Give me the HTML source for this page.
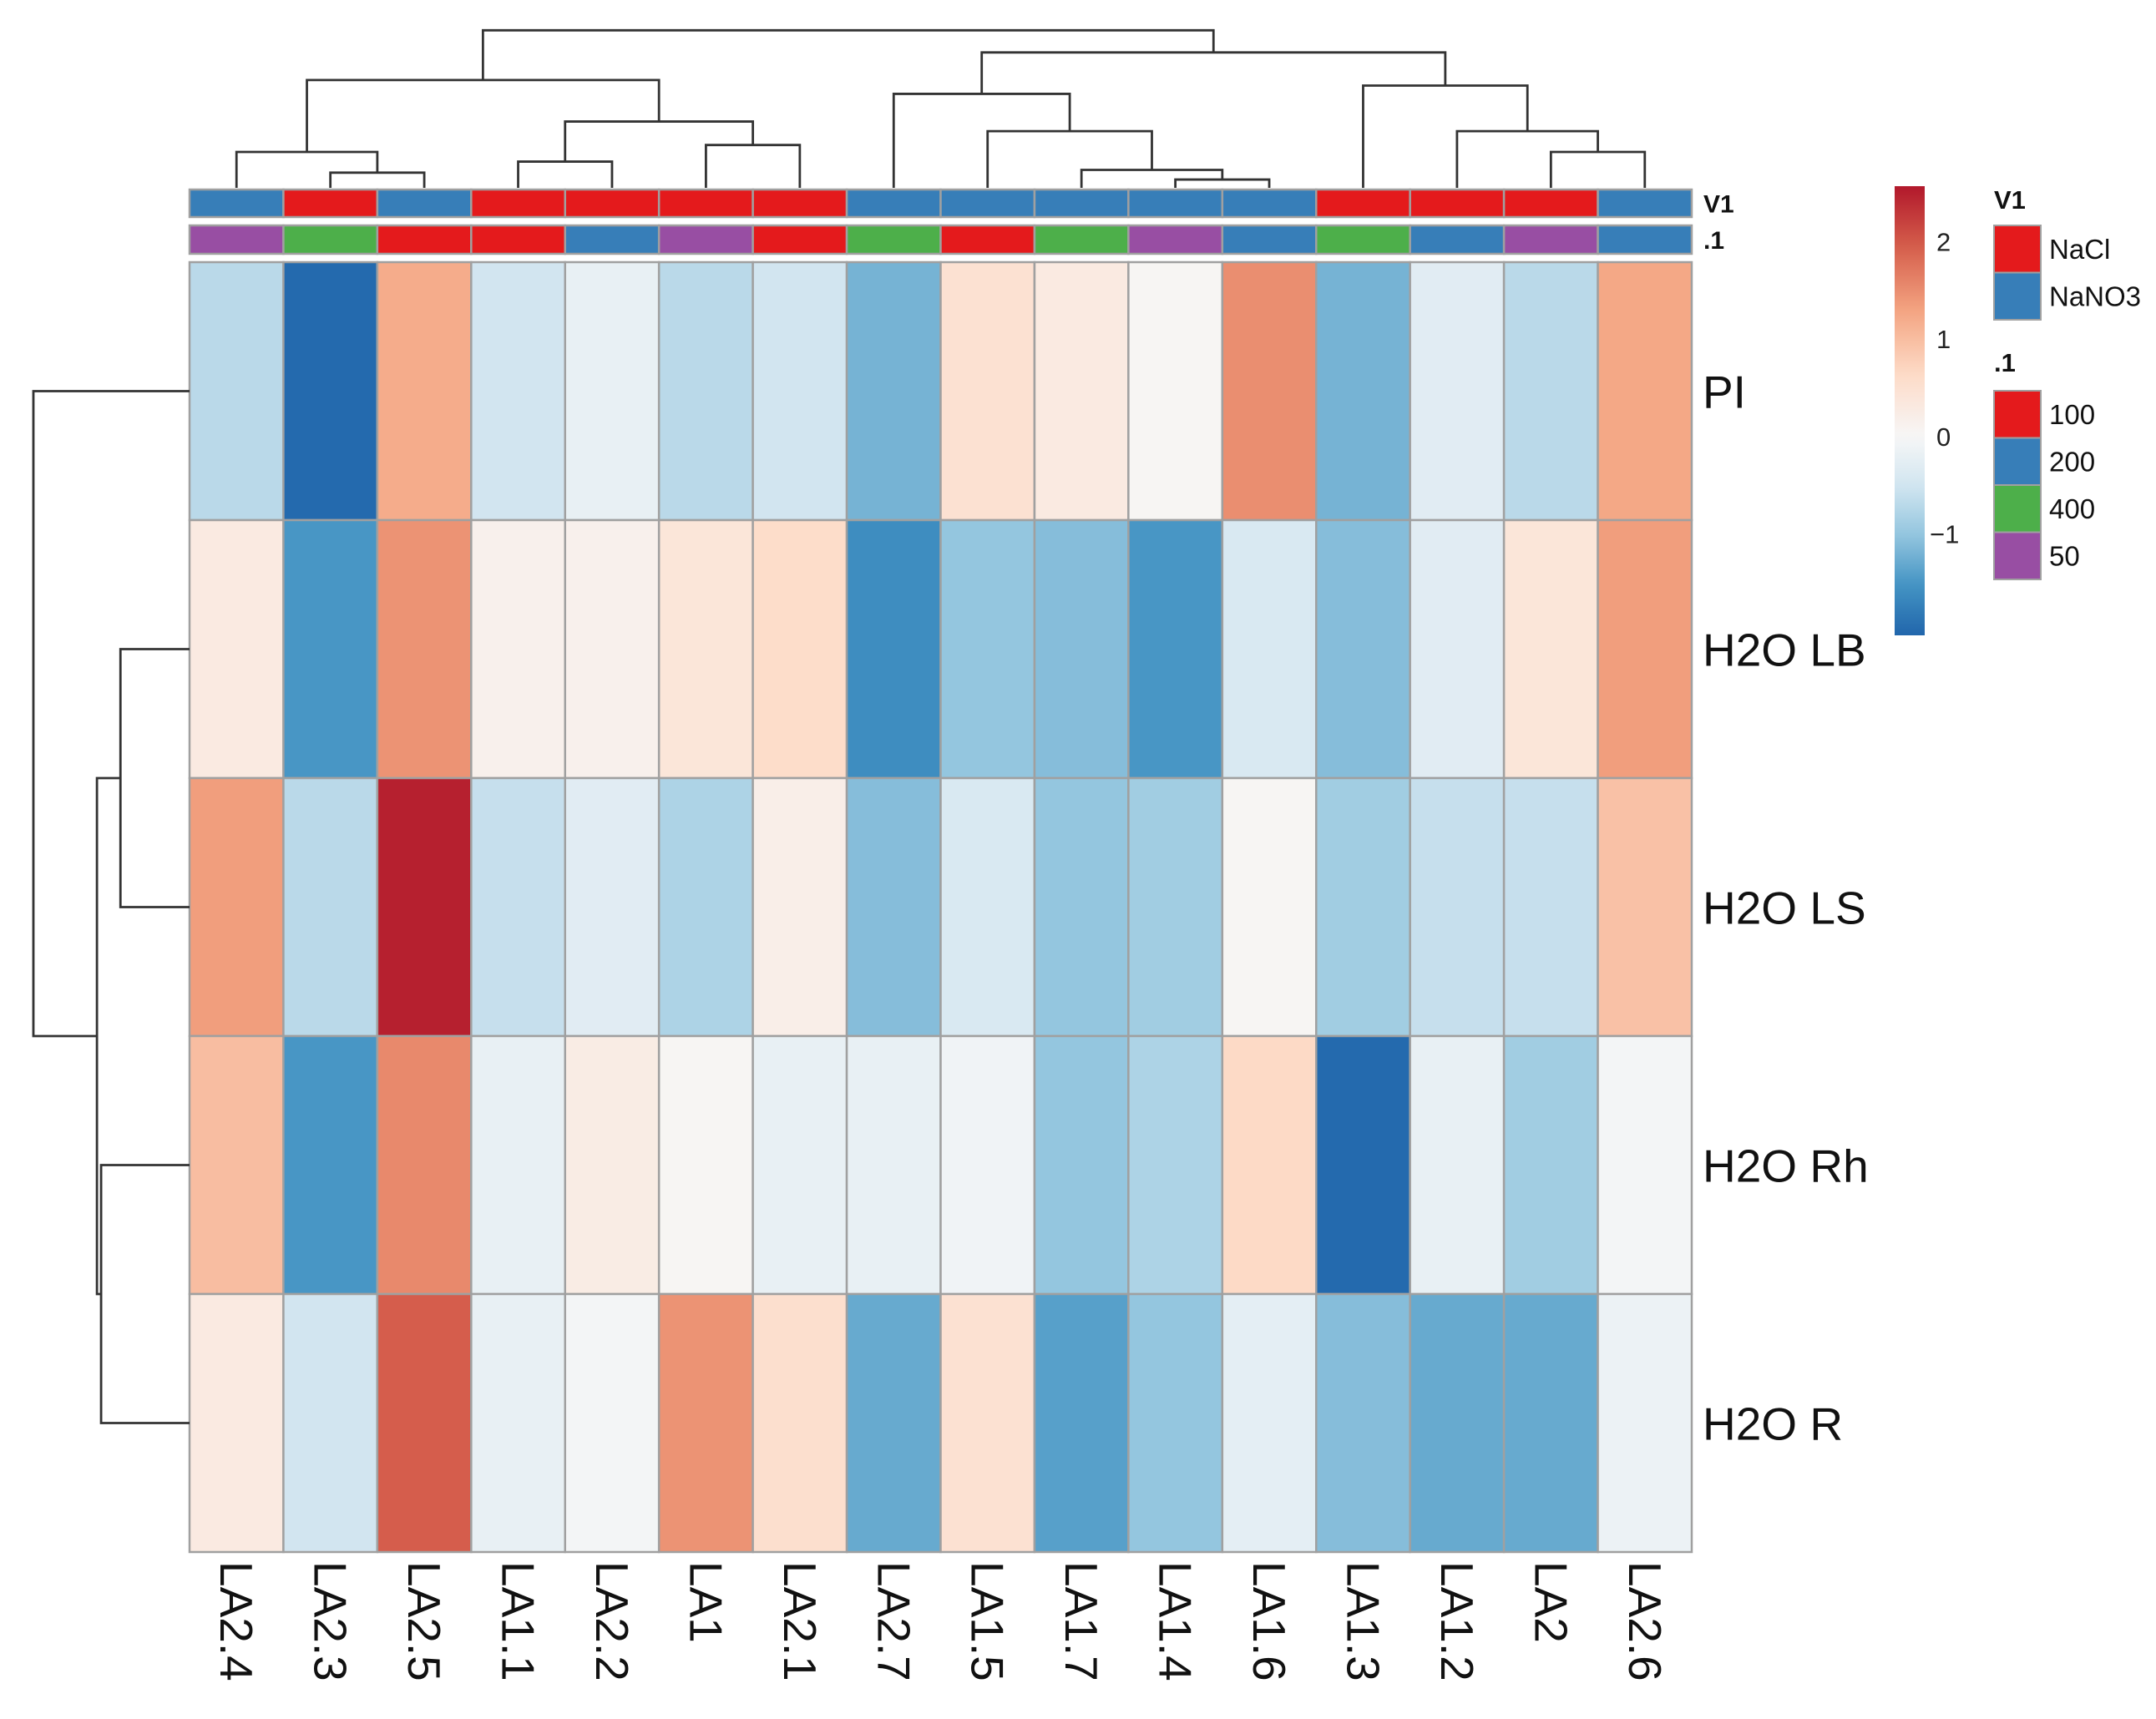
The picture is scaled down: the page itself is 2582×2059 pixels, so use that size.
<!DOCTYPE html>
<html><head><meta charset="utf-8">
<style>
html,body{margin:0;padding:0;background:#fff;}
svg{display:block;font-family:"Liberation Sans",Arial,sans-serif;}
</style></head>
<body>
<svg id="chart" width="2582" height="2059" viewBox="0 0 2582 2059"></svg>
<script>
const colLabels = ["LA2.4","LA2.3","LA2.5","LA1.1","LA2.2","LA1","LA2.1","LA2.7","LA1.5","LA1.7","LA1.4","LA1.6","LA1.3","LA1.2","LA2","LA2.6"];
const rowLabels = ["PI","H2O LB","H2O LS","H2O Rh","H2O R"];
const valsPI = [-0.7,-2.0,1.2,-0.5,-0.2,-0.7,-0.5,-1.2,0.5,0.3,0.05,1.5,-1.2,-0.3,-0.7,1.25];
const valsLB = [0.3,-1.5,1.45,0.15,0.15,0.4,0.6,-1.6,-1.0,-1.1,-1.5,-0.4,-1.1,-0.3,0.4,1.35];
const valsLS = [1.35,-0.7,2.5,-0.6,-0.3,-0.8,0.2,-1.1,-0.4,-1.0,-0.9,0.05,-0.9,-0.6,-0.6,0.95];
const valsRh = [1.0,-1.5,1.55,-0.2,0.25,0.05,-0.2,-0.2,-0.1,-1.0,-0.8,0.65,-2.0,-0.2,-0.9,-0.05];
const valsR  = [0.3,-0.5,1.95,-0.2,-0.05,1.45,0.55,-1.3,0.5,-1.4,-1.0,-0.25,-1.1,-1.3,-1.3,-0.15];
const annoV1 = ["NaNO3","NaCl","NaNO3","NaCl","NaCl","NaCl","NaCl","NaNO3","NaNO3","NaNO3","NaNO3","NaNO3","NaCl","NaCl","NaCl","NaNO3"];
const annoDot1 = ["50","400","100","100","200","50","100","400","100","400","50","200","400","200","50","200"];
const v1Levels = ["NaCl","NaNO3"];
const dot1Levels = ["100","200","400","50"];
const colbarTicks = [2,1,0,-1];
// dendrogram merges: [a, b, height]; negative = leaf index -(i+1), positive = merge number (1-based)
const colMerges = [[-2,-3,11],[-1,1,26],[-4,-5,19],[-6,-7,31],[3,4,48],[2,5,78],[-11,-12,6],[-10,7,13],[-9,8,41],[-8,9,68],[-15,-16,26],[-14,11,41],[-13,12,74],[10,13,98],[6,14,114]];
const rowMerges = [[-2,-3,50],[-4,-5,64],[1,2,67],[-1,3,113]];

const matrix = [valsPI,valsLB,valsLS,valsRh,valsR];
const svg = document.getElementById('chart');
const NS = "http://www.w3.org/2000/svg";
function mk(tag, attrs, parent){const e=document.createElementNS(NS,tag);for(const k in attrs)e.setAttribute(k,attrs[k]);(parent||svg).appendChild(e);return e;}

const X0=227, X1=2026, Y0=314, Y1=1859;
const cw=(X1-X0)/colLabels.length, rh=(Y1-Y0)/rowLabels.length;
const xCol=i=>X0+i*cw, yRow=j=>Y0+j*rh;
const vMin=-2.04, vMax=2.57;

const blues=["#2166ac","#4393c3","#92c5de","#d1e5f0","#f7f7f7"];
const reds=["#f7f7f7","#fddbc7","#f4a582","#d6604d","#b2182b"];
function hex2(c){return [1,3,5].map(i=>parseInt(c.substr(i,2),16));}
function lerpC(a,b,t){const A=hex2(a),B=hex2(b);return "rgb("+A.map((v,i)=>Math.round(v+(B[i]-v)*t)).join(",")+")";}
function color(v){
  let pal,t;
  if(v<0){pal=blues;t=Math.max(0,Math.min(1,(v-vMin)/(0-vMin)));}
  else{pal=reds;t=Math.max(0,Math.min(1,v/vMax));}
  const p=t*(pal.length-1);const i=Math.min(pal.length-2,Math.floor(p));
  return lerpC(pal[i],pal[i+1],p-i);
}
const annoColors={"NaCl":"#e41a1c","NaNO3":"#377eb8","100":"#e41a1c","200":"#377eb8","400":"#4daf4a","50":"#984ea3"};

for(let j=0;j<matrix.length;j++){
  for(let i=0;i<colLabels.length;i++){
    const r=mk('rect',{x:xCol(i),y:yRow(j),width:cw,height:rh,fill:color(matrix[j][i]),stroke:"#a0a0a0","stroke-width":2.5});
    
    
  }
}
const annoRows=[{y:227,h:33,vals:annoV1,name:"V1"},{y:270,h:34,vals:annoDot1,name:".1"}];
annoRows.forEach((a,k)=>{
  a.vals.forEach((v,i)=>{
    const r=mk('rect',{x:xCol(i),y:a.y,width:cw,height:a.h,fill:annoColors[v],stroke:"#a0a0a0","stroke-width":2.5});
    
    
  });
  const t=mk('text',{x:2040,y:a.y+a.h/2+11,"font-size":30,"font-weight":"bold",fill:"#111"});
  t.textContent=a.name;
  
  
});
rowLabels.forEach((l,j)=>{
  const t=mk('text',{x:2039,y:yRow(j)+rh/2+20,"font-size":55,fill:"#111"});
  t.textContent=l;
  
  
});
colLabels.forEach((l,i)=>{
  const cx=xCol(i)+cw/2, y=1870;
  const t=mk('text',{x:cx,y:y,"font-size":55,fill:"#111","dominant-baseline":"central",transform:`rotate(90 ${cx} ${y})`});
  t.textContent=l;
  
  
});
const hScale=1.655;
function drawDendro(merges, leafPos, baseFn, orient, nameP){
  const pos=[],ht=[];
  const g=mk('g',{stroke:"#333","stroke-width":2.8,fill:"none"});
  
  
  function node(id){return id<0?{p:leafPos(-id-1),h:0}:{p:pos[id-1],h:ht[id-1]};}
  merges.forEach((m,k)=>{
    const a=node(m[0]),b=node(m[1]),h=m[2];
    const H=baseFn(h),Ha=baseFn(a.h),Hb=baseFn(b.h);
    let d;
    if(orient==='top') d=`M${a.p},${Ha}V${H}H${b.p}V${Hb}`;
    else d=`M${Ha},${a.p}H${H}V${b.p}H${Hb}`;
    const p=mk('path',{d:d},g);
    
    
    pos.push((a.p+b.p)/2);ht.push(h);
  });
}
drawDendro(colMerges,i=>xCol(i)+cw/2,h=>225-h*hScale,'top','column');
drawDendro(rowMerges,j=>yRow(j)+rh/2,h=>227-h*hScale,'left','row');

const CB={x:2269,w:36,top:223,bot:761};
const cbY=v=>CB.bot-(v-vMin)/(vMax-vMin)*(CB.bot-CB.top);
const defs=mk('defs',{});
const grad=mk('linearGradient',{id:"cbg",x1:0,y1:1,x2:0,y2:0},defs);
for(let s=0;s<=40;s++){const v=vMin+(vMax-vMin)*s/40;mk('stop',{offset:(s/40),"stop-color":color(v)},grad);}
const cb=mk('rect',{x:CB.x,y:CB.top,width:CB.w,height:CB.bot-CB.top,fill:"url(#cbg)"});


colbarTicks.forEach(v=>{
  const t=mk('text',{x:CB.x+CB.w+(v<0?6:14),y:cbY(v)+11,"font-size":31,fill:"#222"});
  t.textContent=v<0?"\u2212"+Math.abs(v):String(v);
  
  
});
function legend(title,levels,ty,sy,nm){
  const t=mk('text',{x:2388,y:ty,"font-size":31,"font-weight":"bold",fill:"#111"});
  t.textContent=title;
  
  
  levels.forEach((l,k)=>{
    const r=mk('rect',{x:2388,y:sy+k*56.5,width:56,height:56.5,fill:annoColors[l],stroke:"#a0a0a0","stroke-width":2});
    
    
    const tx=mk('text',{x:2454,y:sy+k*56.5+40,"font-size":33,fill:"#111"});
    tx.textContent=l;
    
    
  });
}
legend("V1",v1Levels,250,270,'v1');
legend(".1",dot1Levels,445,468,'dot1');
</script>
</body></html>
